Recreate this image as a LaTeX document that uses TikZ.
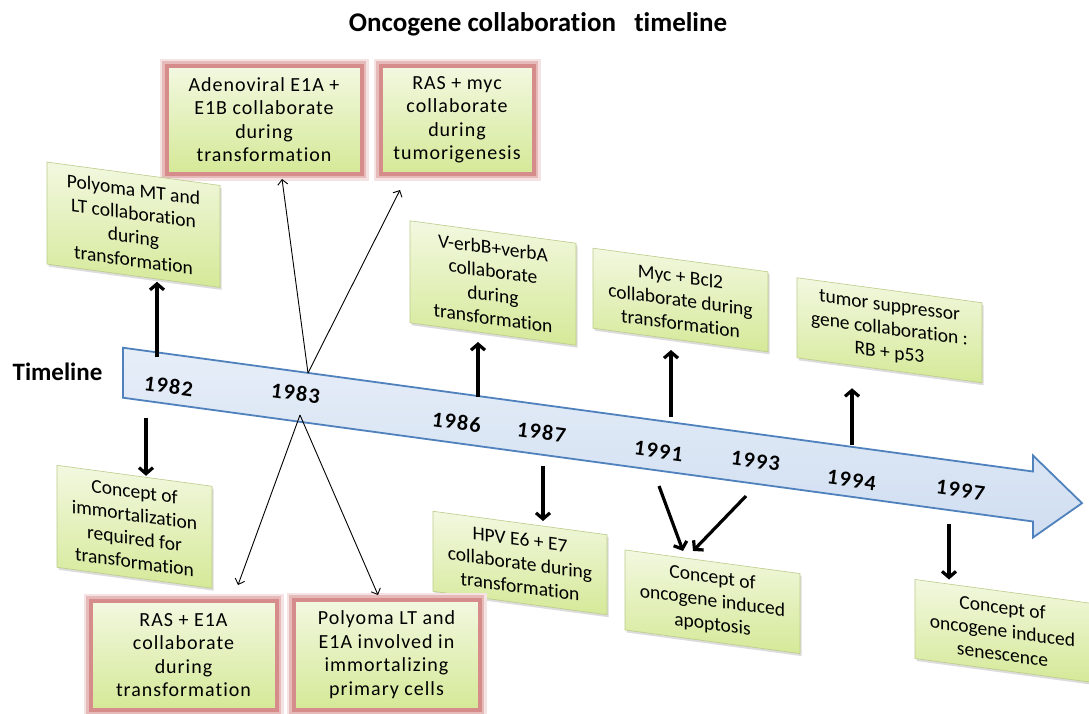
\documentclass[tikz,border=0pt]{standalone}
\usepackage{fontspec}
\setmainfont{Carlito}[Ligatures=NoCommon]
\newfontfamily\yearfont{Carlito}[LetterSpace=6, Ligatures=NoCommon]
\newfontfamily\redfont{Carlito}[LetterSpace=5, Ligatures=NoCommon]
\usepackage{tikz}
\usetikzlibrary{arrows.meta,calc,shadows}
\definecolor{gtop}{RGB}{242,248,224}
\definecolor{gbot}{RGB}{213,233,152}
\definecolor{gline}{RGB}{188,204,136}
\definecolor{glow}{RGB}{214,140,138}
\definecolor{bandline}{RGB}{79,129,189}
\definecolor{bandtop}{RGB}{230,238,248}
\definecolor{bandbot}{RGB}{208,222,241}

\begin{document}
\begin{tikzpicture}[x=1pt,y=-1pt,
  gbox/.style={draw=gline, line width=.6pt, top color=gtop, bottom color=gbot,
    align=center, inner sep=0pt, outer sep=0pt, yslant=-0.135, transform shape,
    font=\fontsize{19.5}{23.5}\selectfont,
    drop shadow={shadow xshift=1.5pt, shadow yshift=-2.5pt, fill=black!45, opacity=.3}},
  rbox/.style={preaction={draw=glow!25, line width=17pt},
    preaction={draw=glow!60, line width=12pt},
    preaction={draw=glow, line width=7pt},
    draw=glow, line width=1pt, top color=gtop, bottom color=gbot,
    align=center, inner sep=0pt, outer sep=0pt,
    font=\redfont\fontsize{20}{23.5}\selectfont},
  yr/.style={font=\yearfont\fontsize{22}{24}\selectfont\bfseries\itshape, yslant=-0.136, transform shape},
  bigarr/.style={line width=3.2pt, -{Straight Barb[length=6pt,width=14pt]}},
  thinarr/.style={line width=.9pt, -{Straight Barb[length=5pt,width=10pt]}}]
  \fill[white] (0,0) rectangle (1089,713);
  \useasboundingbox (0,0) rectangle (1089,713);
  % texts
  \node[anchor=base,font=\fontsize{27}{30}\selectfont\bfseries] at(538,31)(title){Oncogene collaboration\ \ \ timeline};
  \node[anchor=base,font=\fontsize{25}{28}\selectfont\bfseries] at(57.5,380)(tl){Timeline};
  % timeline band
  \begin{scope}[yslant=-0.136]
    \draw[bandline, line width=1.8pt, top color=bandtop, bottom color=bandbot]
      (123,331) -- (1033,331) -- (1033,315) -- (1082,356) -- (1033,397)
      -- (1033,381) -- (123,381) -- cycle;
  \end{scope}
  % years
  \node[yr] at(168,386)(y82){1982};
  \node[yr] at(295,393)(y83){1983};
  \node[yr] at(456,422)(y86){1986};
  \node[yr] at(541,432)(y87){1987};
  \node[yr] at(658,451)(y91){1991};
  \node[yr] at(755,461)(y93){1993};
  \node[yr] at(851,480)(y94){1994};
  \node[yr] at(960,490)(y97){1997};
  % upper boxes
  \node[rbox, minimum width=192pt, minimum height=105pt] at(264,119.5)(ade){Adenoviral E1A +\\E1B collaborate\\during\\transformation};
  \node[rbox, minimum width=150pt, minimum height=105pt] at(457,119.5)(rmyc){RAS + myc\\collaborate\\during\\tumorigenesis};
  \node[gbox, minimum width=173pt, minimum height=102pt] at(133.5,224.75)(pmt){Polyoma MT and\\LT collaboration\\during\\transformation};
  \node[gbox, minimum width=166pt, minimum height=102pt] at(493,283)(verb){V-erbB+verbA\\collaborate\\during\\transformation};
  \node[gbox, minimum width=175pt, minimum height=80pt] at(680.5,300)(mycb){Myc + Bcl2\\collaborate during\\transformation};
  \node[gbox, minimum width=185pt, minimum height=80pt] at(889.5,330.25)(tsg){tumor suppressor\\gene collaboration :\\RB + p53};
  % lower boxes
  \node[gbox, minimum width=155pt, minimum height=102pt] at(134.5,526.75)(imm){Concept of\\immortalization\\required for\\transformation};
  \node[gbox, minimum width=174pt, minimum height=80pt] at(520,563)(hpv){HPV E6 + E7\\collaborate during\\transformation};
  \node[gbox, minimum width=175pt, minimum height=80pt] at(712.5,601.75)(apo){Concept of\\oncogene induced\\apoptosis};
  \node[gbox, minimum width=175pt, minimum height=79pt] at(1002.5,630.8)(sen){Concept of\\oncogene induced\\senescence};
  \node[rbox, minimum width=183pt, minimum height=106pt] at(183.5,655)(re1a){RAS + E1A\\collaborate\\during\\transformation};
  \node[rbox, minimum width=183pt, minimum height=107pt] at(386.5,654.5)(plt){Polyoma LT and\\E1A involved in\\immortalizing\\primary cells};
  % arrow starts on the band
  \coordinate (a82u) at (157,357);
  \coordinate (a82d) at (146,418);
  \coordinate (a83u) at (308,373);
  \coordinate (a83d) at (300,415);
  \coordinate (a86) at (478,397);
  \coordinate (a87) at (543,466);
  \coordinate (a91u) at (671,417);
  \coordinate (a91d) at (659,486);
  \coordinate (a93) at (746,496);
  \coordinate (a94) at (852,445);
  \coordinate (a97) at (949,524);
  % arrows
  \draw[bigarr, shorten >=6pt] (a82u) -- (a82u |- pmt.south);
  \draw[bigarr] (a82d) -- (a82d |- imm.north);
  \draw[thinarr] (a83u) -- ($(ade.south)+(18,7)$);
  \draw[thinarr] (a83u) -- ($(rmyc.south west)+(18,18)$);
  \draw[thinarr] (a83d) -- ($(re1a.north)+(54.5,-17)$);
  \draw[thinarr] (a83d) -- ($(plt.north)+(-8.5,-6)$);
  \draw[bigarr, shorten >=8pt] (a86) -- (a86 |- verb.south);
  \draw[bigarr, shorten >=2pt] (a87) -- (a87 |- hpv.north);
  \draw[bigarr, shorten >=10pt] (a91u) -- (a91u |- mycb.south);
  \draw[bigarr] (a91d) -- ($(apo.north west)+(58,1)$);
  \draw[bigarr] (a93) -- ($(apo.north west)+(68,1)$);
  \draw[bigarr, shorten >=18pt] (a94) -- (a94 |- tsg.south);
  \draw[bigarr] (a97) -- (a97 |- sen.north west);
\end{tikzpicture}
\end{document}
